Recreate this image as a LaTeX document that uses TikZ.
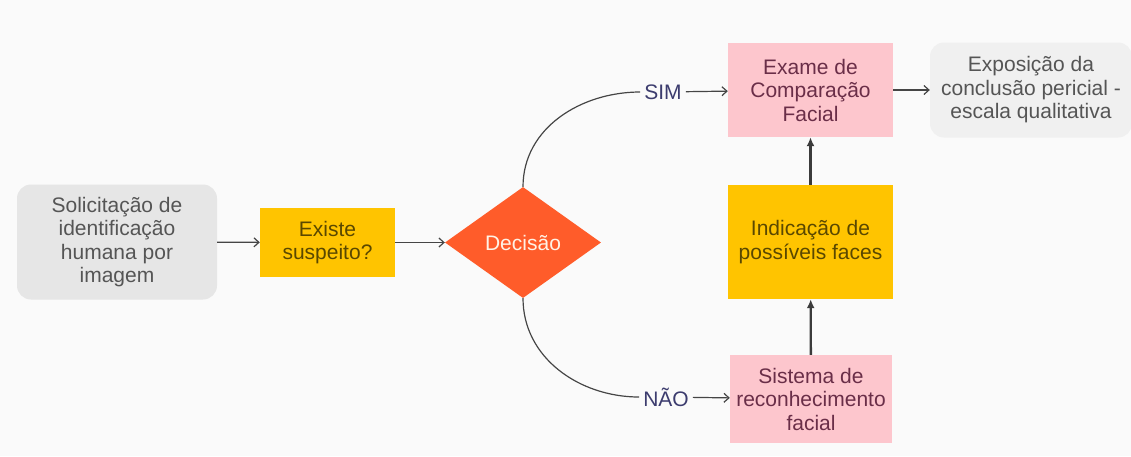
\documentclass[tikz,border=0pt]{standalone}
\usepackage{fontspec}
\setmainfont{Liberation Sans}
\usetikzlibrary{shapes.geometric,arrows.meta}
\definecolor{bgpaper}{HTML}{FAFAFA}
\definecolor{boxgray}{HTML}{E6E6E6}
\definecolor{boxgraylight}{HTML}{F0F0F0}
\definecolor{boxyellow}{HTML}{FFC400}
\definecolor{boxpink}{HTML}{FDC6CD}
\definecolor{decorange}{HTML}{FF5C2A}
\definecolor{txtgray}{HTML}{555555}
\definecolor{txtolive}{HTML}{5A4800}
\definecolor{txtmaroon}{HTML}{6A2E48}
\definecolor{txtnavy}{HTML}{3C3C6E}
\definecolor{lnk}{HTML}{454545}
\begin{document}
\begin{tikzpicture}[x=1pt, y=-1pt,
		every node/.style={font=\fontsize{21}{23.5}\selectfont, align=center, inner sep=0pt},
		softbox/.style={fill=boxgray, text=txtgray, rounded corners=14pt},
		yellowbox/.style={fill=boxyellow, text=txtolive},
		pinkbox/.style={fill=boxpink, text=txtmaroon},
		answer/.style={text=txtnavy, inner sep=4pt},
		flow/.style={draw=lnk, line width=1.2pt, -{Straight Barb[length=5pt,width=9pt]}},
		upflow/.style={draw=lnk!85!black, line width=2.3pt, -{Latex[length=9pt,width=8pt]}}]
		\useasboundingbox[fill=bgpaper] (0,0) rectangle (1131,456);
		% left part
		\node[softbox, minimum width=200pt, minimum height=115pt] (request) at (117,242) {Solicitação de\\identificação\\humana por\\imagem};
		\node[yellowbox, minimum width=135pt, minimum height=69pt] (suspect) at (327.5,242.5) {Existe\\suspeito?};
		\node[diamond, fill=decorange, text=white!90!orange, minimum width=156pt, minimum height=111pt] (decision) at (523,242.5) {Decisão};
		\draw[flow] (request) -- (suspect);
		\draw[flow] (suspect) -- (decision);
		% branches
		\node[answer] (yes) at (663,92) {SIM};
		\node[answer] (no) at (666,397) {NÃO};
		\draw[lnk, line width=1.2pt] (decision.north) to[out=90, in=180] (yes.west);
		\draw[lnk, line width=1.2pt] (decision.south) to[out=-90, in=180] (no.west);
		% right part
		\node[pinkbox, minimum width=165pt, minimum height=94pt] (exam) at (810.5,90) {Exame de\\Comparação\\Facial};
		\node[softbox, fill=boxgraylight, minimum width=202pt, minimum height=95pt] (report) at (1031,90) {Exposição da\\conclusão pericial -\\escala qualitativa};
		\node[yellowbox, minimum width=165pt, minimum height=114pt] (faces) at (810.5,242) {Indicação de\\possíveis faces};
		\node[pinkbox, minimum width=162pt, minimum height=88pt] (system) at (811,399) {Sistema de\\reconhecimento\\facial};
		\draw[flow] (yes) -- (exam);
		\draw[flow] (no) -- (system);
		\draw[flow] (exam) -- (report);
		\draw[upflow] (system) -- (faces);
		\draw[upflow] (faces) -- (exam);
	\end{tikzpicture}
\end{document}
